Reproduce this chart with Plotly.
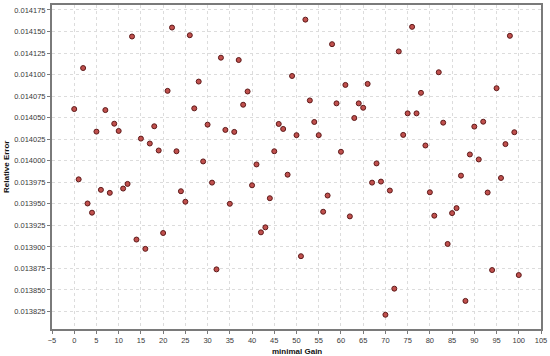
import plotly.graph_objects as go

minimal_gain = [
    0, 1, 2, 3, 4, 5, 6, 7, 8, 9, 10, 11, 12, 13, 14, 15, 16, 17, 18, 19, 20,
    21, 22, 23, 24, 25, 26, 27, 28, 29, 30, 31, 32, 33, 34, 35, 36, 37, 38, 39, 40,
    41, 42, 43, 44, 45, 46, 47, 48, 49, 50, 51, 52, 53, 54, 55, 56, 57, 58, 59, 60,
    61, 62, 63, 64, 65, 66, 67, 68, 69, 70, 71, 72, 73, 74, 75, 76, 77, 78, 79, 80,
    81, 82, 83, 84, 85, 86, 87, 88, 89, 90, 91, 92, 93, 94, 95, 96, 97, 98, 99, 100,
]

relative_error = [
    0.0140600, 0.0139784, 0.0141076, 0.0139504, 0.0139397, 0.0140338, 0.0139662,
    0.0140588, 0.0139627, 0.0140430, 0.0140346, 0.0139677, 0.0139731, 0.0141442,
    0.0139085, 0.0140257, 0.0138977, 0.0140200, 0.0140400, 0.0140119, 0.0139161,
    0.0140811, 0.0141546, 0.0140110, 0.0139646, 0.0139524, 0.0141457, 0.0140608,
    0.0140919, 0.0139992, 0.0140419, 0.0139746, 0.0138739, 0.0141196, 0.0140358,
    0.0139500, 0.0140335, 0.0141169, 0.0140650, 0.0140804, 0.0139715, 0.0139957,
    0.0139169, 0.0139227, 0.0139565, 0.0140110, 0.0140427, 0.0140369, 0.0139838,
    0.0140984, 0.0140297, 0.0138892, 0.0141638, 0.0140700, 0.0140450, 0.0140297,
    0.0139408, 0.0139596, 0.0141353, 0.0140666, 0.0140104, 0.0140880, 0.0139354,
    0.0140496, 0.0140666, 0.0140615, 0.0140892, 0.0139746, 0.0139969, 0.0139758,
    0.0138212, 0.0139654, 0.0138515, 0.0141269, 0.0140300, 0.0140550, 0.0141554,
    0.0140550, 0.0140788, 0.0140177, 0.0139634, 0.0139362, 0.0141027, 0.0140442,
    0.0139034, 0.0139392, 0.0139450, 0.0139827, 0.0138373, 0.0140073, 0.0140396,
    0.0140015, 0.0140453, 0.0139631, 0.0138731, 0.0140842, 0.0139800, 0.0140193,
    0.0141450, 0.0140331, 0.0138673,
]

y_tick_values = [
    0.013825, 0.013850, 0.013875, 0.013900, 0.013925, 0.013950, 0.013975,
    0.014000, 0.014025, 0.014050, 0.014075, 0.014100, 0.014125, 0.014150, 0.014175,
]
y_tick_labels = [
    "0.013825", "0.013850", "0.013875", "0.013900", "0.013925", "0.013950", "0.013975",
    "0.014000", "0.014025", "0.014050", "0.014075", "0.014100", "0.014125", "0.014150", "0.014175",
]

tick_font = dict(family="Liberation Sans, Arial, sans-serif", size=7.5, color="#3a3a3a")
title_font = dict(family="Liberation Sans, Arial, sans-serif", size=8, color="#111111")

fig = go.Figure()
fig.add_trace(go.Scatter(
    x=minimal_gain, y=relative_error, mode="markers",
    marker=dict(size=5, color="#c0504d", line=dict(color="#5e1a1a", width=1)),
    showlegend=False, hoverinfo="x+y",
))

axis_common = dict(
    showgrid=True, gridcolor="#dcdcdc", griddash="dot", gridwidth=1,
    zeroline=False, showline=True, linecolor="#7a7a7a", linewidth=2, mirror=True,
    ticks="outside", ticklen=3, tickcolor="#7a7a7a", tickfont=tick_font,
)

fig.update_layout(
    width=550, height=356,
    margin=dict(l=52, r=8, t=3, b=27),
    paper_bgcolor="white", plot_bgcolor="white",
    xaxis=dict(range=[-5, 105], tickmode="linear", tick0=-5, dtick=5, **axis_common),
    yaxis=dict(range=[0.01380468, 0.01418078], tickmode="array",
               tickvals=y_tick_values, ticktext=y_tick_labels, **axis_common),
    annotations=[
        dict(text="<b>minimal Gain</b>", xref="paper", yref="paper", x=0.5, y=0,
             xanchor="center", yanchor="middle", yshift=-22, showarrow=False,
             font=title_font),
        dict(text="<b>Relative Error</b>", xref="paper", yref="paper", x=0, y=0.5,
             xanchor="center", yanchor="middle", xshift=-46, textangle=-90,
             showarrow=False, font=title_font),
    ],
)

fig.write_html(
    "out.html",
    config={"displayModeBar": False},
    post_script="document.body.style.margin='0';document.body.style.overflow='hidden';",
)
